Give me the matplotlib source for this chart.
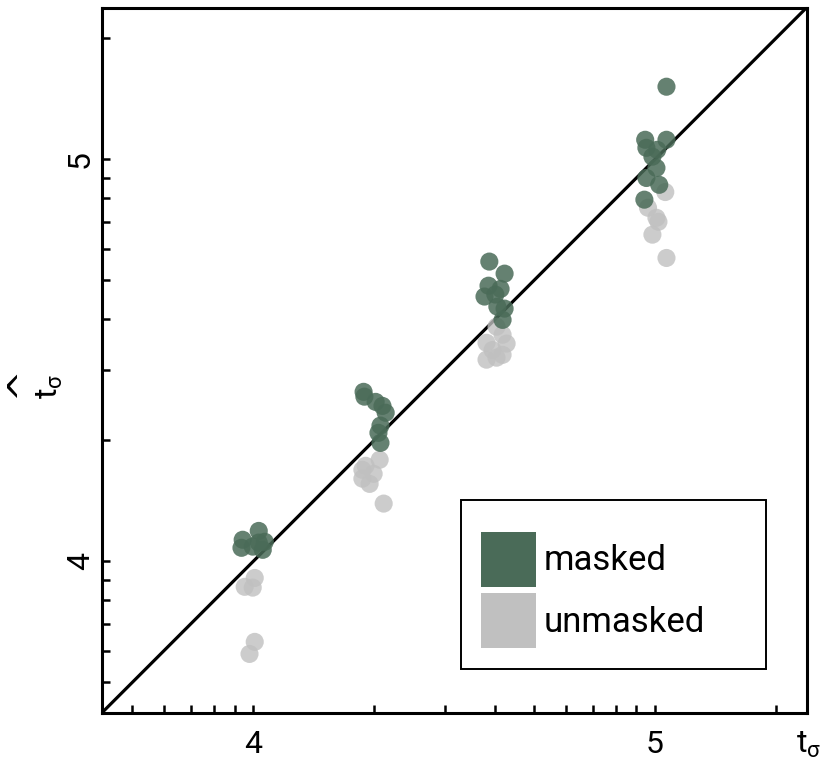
import numpy as np
import matplotlib
matplotlib.use("Agg")
import matplotlib.pyplot as plt
from matplotlib.patches import Patch, Rectangle
from matplotlib.ticker import LogLocator, FuncFormatter, NullFormatter

plt.rcParams['font.family'] = ['Roboto', 'DejaVu Sans']
plt.rcParams['mathtext.fontset'] = 'custom'
plt.rcParams['mathtext.rm'] = 'Roboto'
plt.rcParams['mathtext.it'] = 'Roboto'

# log10 of true vs estimated timescale, per group
masked_true = [3.974, 4.014, 3.971, 4.014, 4.029, 3.999, 4.024,
               4.275, 4.277, 4.305, 4.322, 4.330, 4.317, 4.312, 4.317,
               4.588, 4.626, 4.586, 4.616, 4.576, 4.603, 4.608, 4.626, 4.621,
               5.029, 4.976, 5.029, 4.979, 5.006, 4.994, 5.004, 4.979, 5.011, 4.974]
masked_est = [4.054, 4.076, 4.034, 4.047, 4.049, 4.037, 4.029,
              4.422, 4.410, 4.397, 4.387, 4.370, 4.338, 4.320, 4.295,
              4.746, 4.716, 4.686, 4.678, 4.659, 4.664, 4.634, 4.629, 4.601,
              5.181, 5.049, 5.049, 5.029, 5.024, 5.007, 4.979, 4.954, 4.937, 4.900]

unmasked_true = [4.004, 3.979, 3.999, 4.004, 3.991,
                 4.315, 4.280, 4.272, 4.300, 4.272, 4.290, 4.325,
                 4.606, 4.621, 4.581, 4.631, 4.596, 4.581, 4.606, 4.621,
                 5.026, 4.983, 5.009, 4.994, 5.004, 5.029]
unmasked_est = [3.959, 3.937, 3.935, 3.800, 3.770,
                4.253, 4.238, 4.228, 4.218, 4.206, 4.193, 4.144,
                4.584, 4.564, 4.544, 4.542, 4.526, 4.502, 4.507, 4.514,
                4.919, 4.880, 4.845, 4.813, 4.855, 4.755]

lims = [3.623, 5.378]

green = '#4a6b58'
grey = '#c0c0c0'

fig = plt.figure(figsize=(8.26, 7.6), dpi=100)
ax = fig.add_axes([0.1231, 0.0618, 0.8535, 0.9283])

lo, hi = 10 ** lims[0], 10 ** lims[1]
ax.plot([lo, hi], [lo, hi], color='black', lw=2.3, zorder=1)

ax.scatter(10 ** np.array(unmasked_true), 10 ** np.array(unmasked_est),
           s=170, color=grey, alpha=0.8, edgecolors='none', zorder=2)
ax.scatter(10 ** np.array(masked_true), 10 ** np.array(masked_est),
           s=170, color=green, alpha=0.85, edgecolors='none', zorder=3)

ax.set_xscale('log')
ax.set_yscale('log')
ax.set_xlim(lo, hi)
ax.set_ylim(lo, hi)

exp_fmt = FuncFormatter(lambda v, p: '%d' % round(np.log10(v)))
for axis in (ax.xaxis, ax.yaxis):
    axis.set_major_locator(LogLocator(base=10))
    axis.set_minor_locator(LogLocator(base=10, subs=np.arange(2, 10)))
    axis.set_major_formatter(exp_fmt)
    axis.set_minor_formatter(NullFormatter())

for s in ax.spines.values():
    s.set_linewidth(2.2)

ax.tick_params(which='both', direction='in', length=6, width=1.8, labelsize=23)
ax.tick_params(axis='x', which='major', pad=12)
ax.tick_params(axis='y', which='major', pad=5, labelrotation=90)
for lab in ax.get_yticklabels():
    lab.set_verticalalignment('center')

# axis names: t_sigma on x, hatted t_sigma on y
ax.text(1.003, -0.024, r'$\mathrm{t_{\sigma}}$', transform=ax.transAxes,
        ha='center', va='top', fontsize=23)
fig.text(50 / 826, 1 - 386 / 760, r'$\mathrm{t_{\sigma}}$', rotation=90,
         ha='center', va='center', fontsize=23)
fig.text(21 / 826, 1 - 382 / 760, '^', rotation=90, family='DejaVu Sans',
         ha='center', va='center', fontsize=27)

handles = [Patch(facecolor=green, edgecolor='none', label='masked'),
           Patch(facecolor=grey, edgecolor='none', label='unmasked')]
ax.legend(handles=handles, loc='upper left', bbox_to_anchor=(0.538, 0.2566),
          frameon=False, fontsize=25, handlelength=1.58, handleheight=2.06,
          handletextpad=0.23, labelspacing=0.18, borderpad=0, borderaxespad=0)
ax.add_patch(Rectangle((0.5095, 0.0624), 0.4325, 0.2396, transform=ax.transAxes,
                       fill=False, edgecolor='black', lw=1.4, zorder=5))

fig.savefig('out.png', dpi=100)
